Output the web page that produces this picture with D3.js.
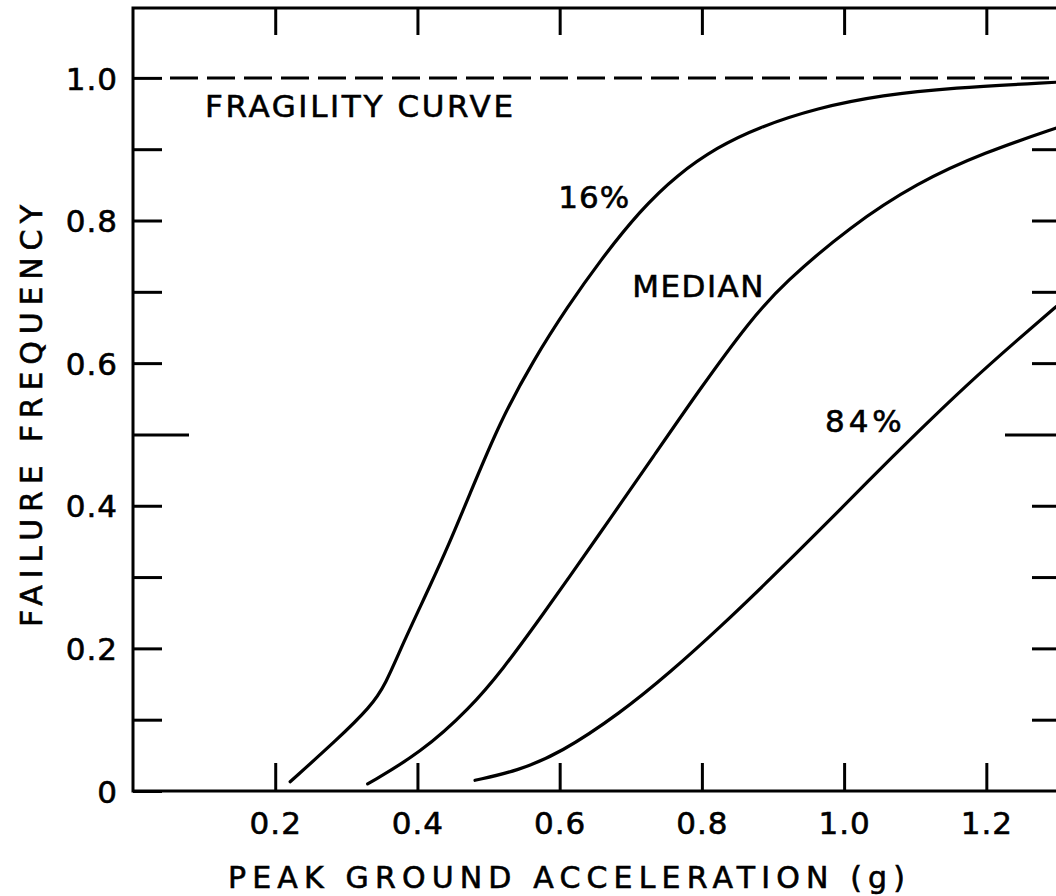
<!DOCTYPE html>
<html>
<head>
<meta charset="utf-8">
<script src="https://cdn.jsdelivr.net/npm/d3@7/dist/d3.min.js"></script>
<style>
  html, body { margin: 0; padding: 0; background: #fff; overflow: hidden; }
  svg { display: block; }
  text { font-family: "DejaVu Sans", sans-serif; fill: #000; stroke: #000; stroke-width: 0.6px; }
</style>
</head>
<body>
<svg id="chart" width="1056" height="896"></svg>
<script>
// Fragility curves: failure frequency vs. peak ground acceleration (g)
const curve16 = [
  [0.221, 0.013], [0.287, 0.072], [0.334, 0.118], [0.355, 0.149], [0.380, 0.208],
  [0.418, 0.288], [0.446, 0.350], [0.471, 0.410], [0.516, 0.518], [0.563, 0.604],
  [0.611, 0.679], [0.657, 0.744], [0.713, 0.814], [0.765, 0.864], [0.822, 0.903],
  [0.878, 0.930], [0.962, 0.958], [1.055, 0.976], [1.149, 0.986], [1.300, 0.994]
];
const curveMedian = [
  [0.330, 0.010], [0.404, 0.053], [0.474, 0.116], [0.521, 0.172], [0.568, 0.236],
  [0.615, 0.302], [0.657, 0.362], [0.685, 0.402], [0.727, 0.462], [0.798, 0.565],
  [0.868, 0.660], [0.915, 0.712], [1.009, 0.792], [1.103, 0.853], [1.196, 0.895],
  [1.305, 0.932]
];
const curve84 = [
  [0.481, 0.015], [0.540, 0.028], [0.601, 0.053], [0.685, 0.109], [0.755, 0.166],
  [0.826, 0.230], [0.896, 0.297], [0.966, 0.366], [1.032, 0.433], [1.103, 0.503],
  [1.173, 0.570], [1.243, 0.632], [1.305, 0.685]
];

const xTicks = [0.2, 0.4, 0.6, 0.8, 1.0, 1.2];
const xTickLabels = ["0.2", "0.4", "0.6", "0.8", "1.0", "1.2"];
const yTicks = [0, 0.1, 0.2, 0.3, 0.4, 0.5, 0.6, 0.7, 0.8, 0.9, 1.0];
const yTickLabels = ["0", "", "0.2", "", "0.4", "", "0.6", "", "0.8", "", "1.0"];

// Curve labels, placed at their left baseline (data units)
const seriesLabels = [
  { text: "16%",    x: 0.598, y: 0.818, spacing: 1 },
  { text: "MEDIAN", x: 0.702, y: 0.693, spacing: 1.5 },
  { text: "84%",    x: 0.973, y: 0.503, spacing: 4 }
];

const svg = d3.select("#chart");
const plotLeft = 133, plotRight = 1061, plotTop = 8, plotBottom = 791;

const x = d3.scaleLinear().domain([0, 1.305]).range([plotLeft, plotRight]);
const y = d3.scaleLinear().domain([0, 1.098]).range([plotBottom, plotTop]);

// Tick marks pointing into the plot on all four sides
const tickLen = 29, longTickLen = 56;
const fontSize = 31;

const gLeft = svg.append("g").attr("transform", `translate(${plotLeft},0)`)
  .call(d3.axisLeft(y).tickValues(yTicks)
    .tickSizeInner(-tickLen).tickSizeOuter(0).tickPadding(15)
    .tickFormat((d, i) => yTickLabels[i]));
gLeft.selectAll(".tick line").filter(d => Math.abs(d - 0.5) < 1e-9).attr("x2", longTickLen);

const gRight = svg.append("g").attr("transform", `translate(${plotRight},0)`)
  .call(d3.axisRight(y).tickValues(yTicks.filter(d => d > 0 && d < 1))
    .tickSizeInner(-tickLen).tickSizeOuter(0).tickFormat(""));
gRight.selectAll(".tick line").filter(d => Math.abs(d - 0.5) < 1e-9).attr("x2", -longTickLen);

const gBottom = svg.append("g").attr("transform", `translate(0,${plotBottom})`)
  .call(d3.axisBottom(x).tickValues(xTicks)
    .tickSizeInner(-28).tickSizeOuter(0).tickPadding(21)
    .tickFormat((d, i) => xTickLabels[i]));

const gTop = svg.append("g").attr("transform", `translate(0,${plotTop})`)
  .call(d3.axisTop(x).tickValues(xTicks)
    .tickSizeInner(-27).tickSizeOuter(0).tickFormat(""));

[gLeft, gRight, gBottom, gTop].forEach(g => {
  g.select(".domain").remove();
  g.selectAll(".tick line").attr("stroke", "#000").attr("stroke-width", 3);
  g.selectAll(".tick text").attr("font-size", fontSize).attr("fill", "#000")
    .attr("font-family", "DejaVu Sans, sans-serif").attr("letter-spacing", 1);
});
gLeft.selectAll(".tick text").attr("dy", "0.36em");

// Plot frame
svg.append("rect")
  .attr("x", plotLeft).attr("y", plotTop)
  .attr("width", plotRight - plotLeft).attr("height", plotBottom - plotTop)
  .attr("fill", "none").attr("stroke", "#000").attr("stroke-width", 3);

// Upper bound of failure frequency
svg.append("line")
  .attr("x1", 170).attr("x2", plotRight)
  .attr("y1", y(1.0)).attr("y2", y(1.0))
  .attr("stroke", "#000").attr("stroke-width", 3)
  .attr("stroke-dasharray", "28,9");

// Curves
const line = d3.line().x(d => x(d[0])).y(d => y(d[1])).curve(d3.curveBasis);
[curve16, curveMedian, curve84].forEach(c => {
  svg.append("path").datum(c)
    .attr("d", line)
    .attr("fill", "none").attr("stroke", "#000")
    .attr("stroke-width", 3.2).attr("stroke-linecap", "round");
});

// Labels
seriesLabels.forEach(l => {
  svg.append("text")
    .attr("x", x(l.x)).attr("y", y(l.y))
    .attr("font-size", fontSize)
    .attr("letter-spacing", l.spacing)
    .text(l.text);
});

svg.append("text")
  .attr("x", 205).attr("y", 117)
  .attr("font-size", fontSize)
  .attr("textLength", 308).attr("lengthAdjust", "spacing")
  .text("FRAGILITY CURVE");

svg.append("text")
  .attr("x", 228).attr("y", 888)
  .attr("font-size", 30)
  .attr("textLength", 677).attr("lengthAdjust", "spacing")
  .text("PEAK GROUND ACCELERATION (g)");

svg.append("text")
  .attr("transform", "translate(42,627) rotate(-90)")
  .attr("font-size", 30)
  .attr("textLength", 422).attr("lengthAdjust", "spacing")
  .text("FAILURE FREQUENCY");
</script>
</body>
</html>
